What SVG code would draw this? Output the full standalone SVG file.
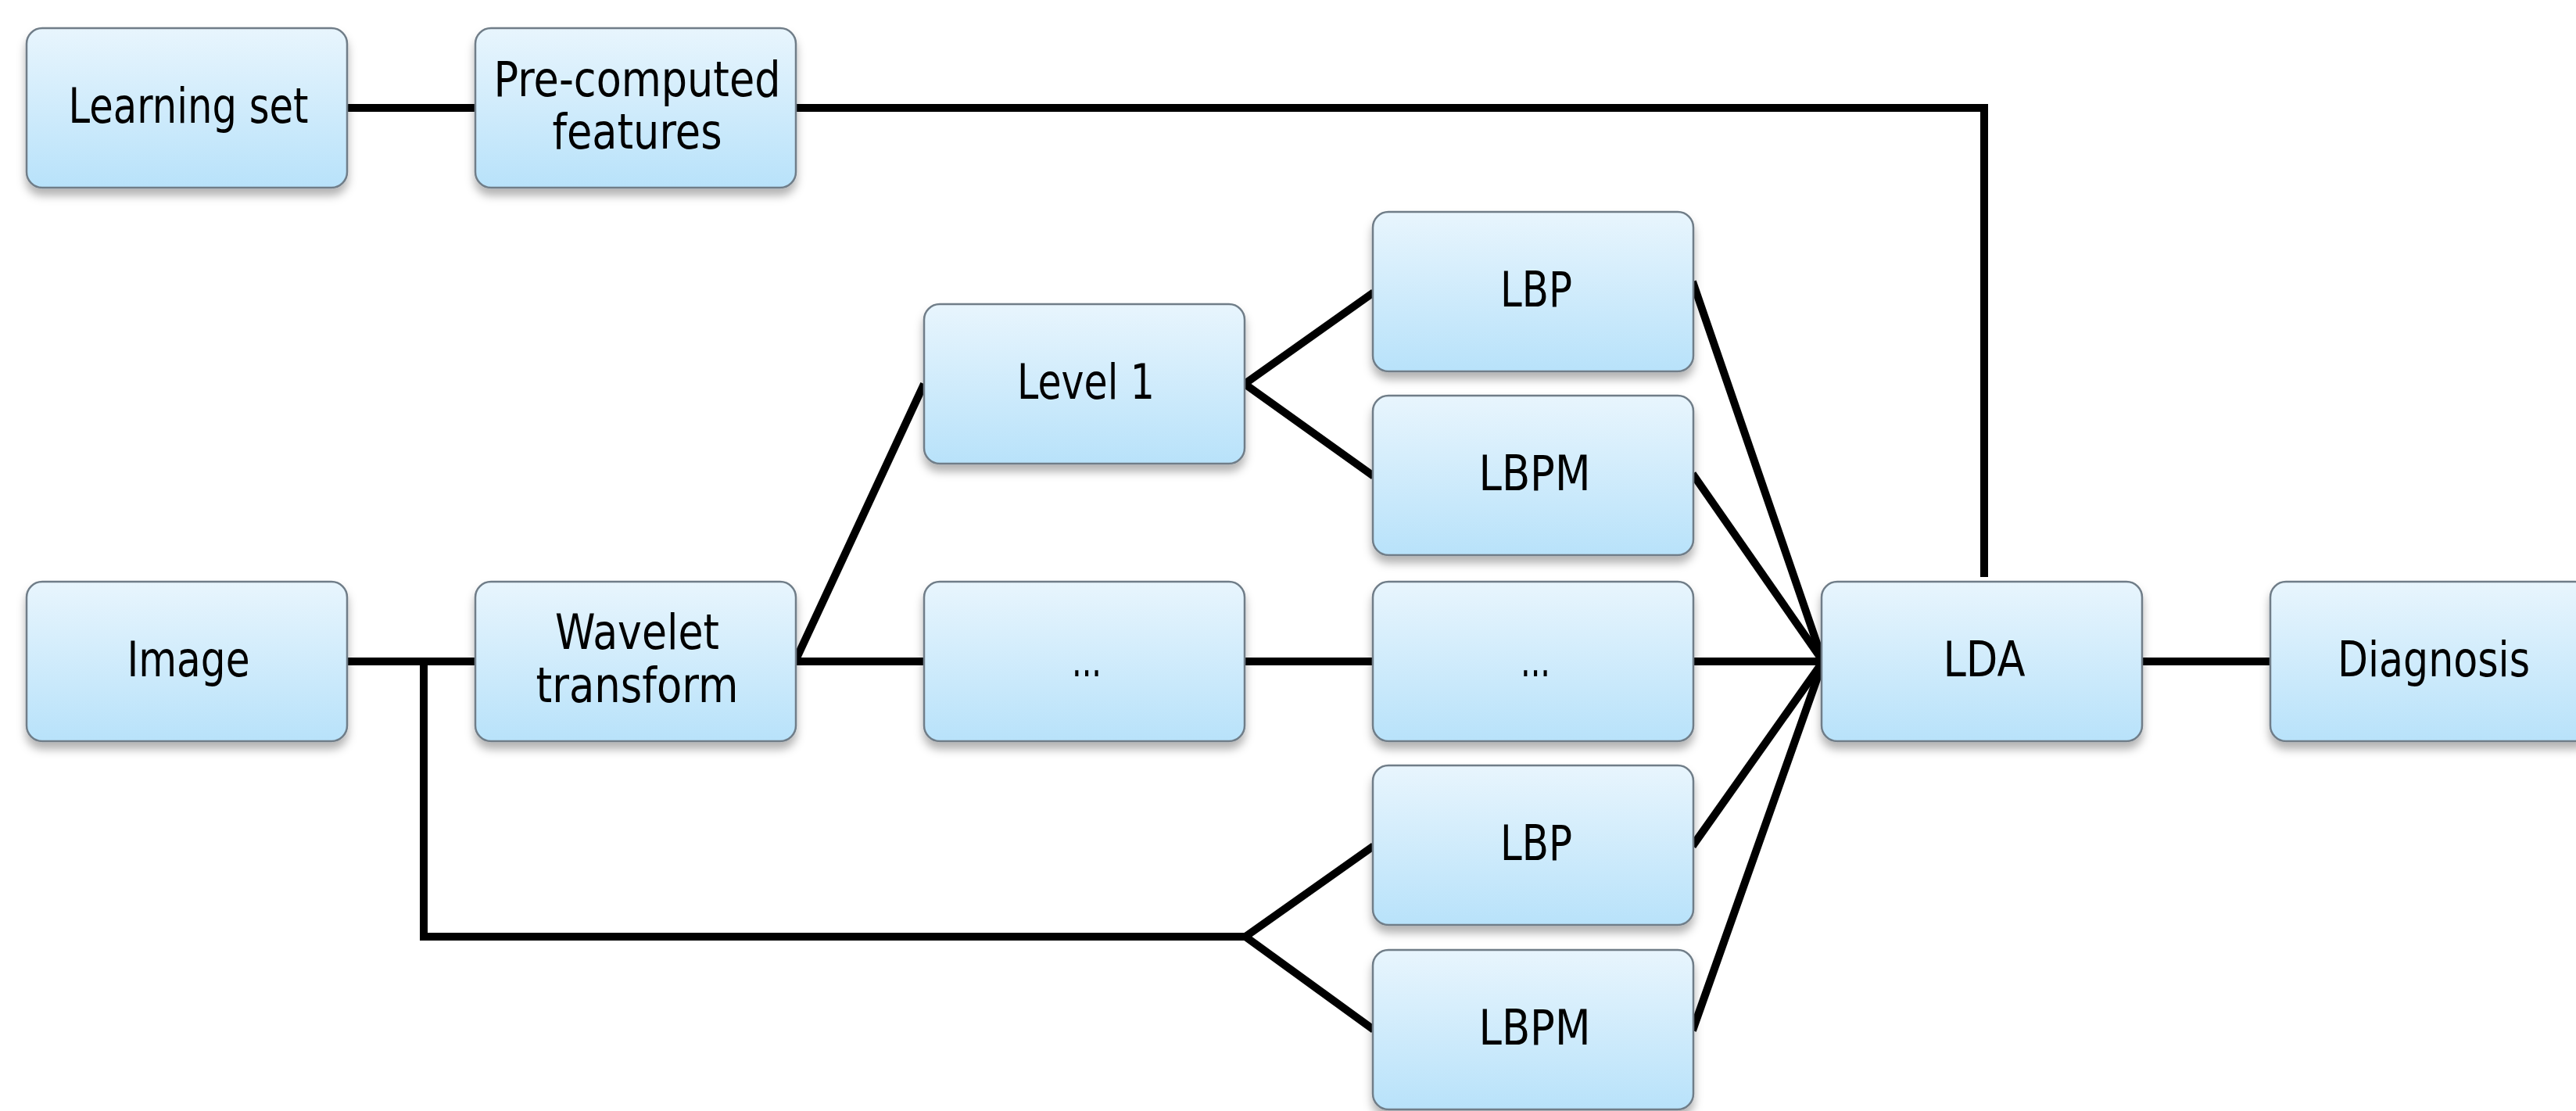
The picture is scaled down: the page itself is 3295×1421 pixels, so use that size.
<svg xmlns="http://www.w3.org/2000/svg" width="3295" height="1421" viewBox="0 0 3295 1421">
<style>
.box{fill:url(#g);stroke:#6f7d88;stroke-width:2.5}
.t{font-family:"DejaVu Sans","Liberation Sans",sans-serif;font-size:63px;fill:#000;text-anchor:middle}
.c line,.c polyline{stroke:#000;stroke-width:10;fill:none;stroke-linecap:butt}
</style>
<defs>
<linearGradient id="g" x1="0" y1="0" x2="0" y2="1">
<stop offset="0" stop-color="#e8f5fd"/>
<stop offset="1" stop-color="#b8e2fa"/>
</linearGradient>
<filter id="sh" x="-10%" y="-10%" width="120%" height="130%">
<feDropShadow dx="0" dy="9" stdDeviation="6" flood-color="#000" flood-opacity="0.3"/>
</filter>
</defs>
<rect width="3295" height="1421" fill="#fff"/>
<g class="c" id="connectors">
<line x1="443" y1="138" x2="608" y2="138"/>
<polyline points="1017,138 2538,138 2538,738"/>
<line x1="443" y1="846" x2="608" y2="846"/>
<polyline points="542,846 542,1198 1593,1198"/>
<line x1="1593" y1="1198" x2="1757" y2="1082"/>
<line x1="1593" y1="1198" x2="1757" y2="1317"/>
<line x1="1017" y1="846" x2="1182" y2="491"/>
<line x1="1017" y1="846" x2="1182" y2="846"/>
<line x1="1592" y1="491" x2="1757" y2="374"/>
<line x1="1592" y1="491" x2="1757" y2="609"/>
<line x1="1592" y1="846" x2="1756" y2="846"/>
<line x1="2166" y1="846" x2="2332" y2="846"/>
<line x1="2165" y1="360" x2="2332" y2="846"/>
<line x1="2165" y1="606" x2="2332" y2="846"/>
<line x1="2165" y1="1082" x2="2332" y2="846"/>
<line x1="2165" y1="1318" x2="2332" y2="846"/>
<line x1="2740" y1="846" x2="2904" y2="846"/>
</g>
<g id="learning-set" filter="url(#sh)"><rect class="box" x="34" y="36" width="410" height="204" rx="20"/><text class="t" x="241" y="157" textLength="307" lengthAdjust="spacingAndGlyphs">Learning set</text></g>
<g id="precomputed" filter="url(#sh)"><rect class="box" x="608" y="36" width="410" height="204" rx="20"/><text class="t" x="815" y="123" textLength="367" lengthAdjust="spacingAndGlyphs">Pre-computed</text><text class="t" x="815" y="190" textLength="217" lengthAdjust="spacingAndGlyphs">features</text></g>
<g id="image" filter="url(#sh)"><rect class="box" x="34" y="744" width="410" height="204" rx="20"/><text class="t" x="241" y="865" textLength="157" lengthAdjust="spacingAndGlyphs">Image</text></g>
<g id="wavelet" filter="url(#sh)"><rect class="box" x="608" y="744" width="410" height="204" rx="20"/><text class="t" x="815" y="830" textLength="210" lengthAdjust="spacingAndGlyphs">Wavelet</text><text class="t" x="815" y="898" textLength="259" lengthAdjust="spacingAndGlyphs">transform</text></g>
<g id="level1" filter="url(#sh)"><rect class="box" x="1182" y="389" width="410" height="204" rx="20"/><text class="t" x="1389" y="510" textLength="176" lengthAdjust="spacingAndGlyphs">Level 1</text></g>
<g id="dots-mid" filter="url(#sh)"><rect class="box" x="1182" y="744" width="410" height="204" rx="20"/><text class="t" x="1390" y="865" textLength="38" lengthAdjust="spacingAndGlyphs">...</text></g>
<g id="lbp-top" filter="url(#sh)"><rect class="box" x="1756" y="271" width="410" height="204" rx="20"/><text class="t" x="1965" y="392" textLength="92" lengthAdjust="spacingAndGlyphs">LBP</text></g>
<g id="lbpm-top" filter="url(#sh)"><rect class="box" x="1756" y="506" width="410" height="204" rx="20"/><text class="t" x="1963" y="627" textLength="143" lengthAdjust="spacingAndGlyphs">LBPM</text></g>
<g id="dots-right" filter="url(#sh)"><rect class="box" x="1756" y="744" width="410" height="204" rx="20"/><text class="t" x="1964" y="865" textLength="38" lengthAdjust="spacingAndGlyphs">...</text></g>
<g id="lbp-bottom" filter="url(#sh)"><rect class="box" x="1756" y="979" width="410" height="204" rx="20"/><text class="t" x="1965" y="1100" textLength="92" lengthAdjust="spacingAndGlyphs">LBP</text></g>
<g id="lbpm-bottom" filter="url(#sh)"><rect class="box" x="1756" y="1215" width="410" height="204" rx="20"/><text class="t" x="1963" y="1336" textLength="143" lengthAdjust="spacingAndGlyphs">LBPM</text></g>
<g id="lda" filter="url(#sh)"><rect class="box" x="2330" y="744" width="410" height="204" rx="20"/><text class="t" x="2538" y="865" textLength="105" lengthAdjust="spacingAndGlyphs">LDA</text></g>
<g id="diagnosis" filter="url(#sh)"><rect class="box" x="2904" y="744" width="410" height="204" rx="20"/><text class="t" x="3113" y="865" textLength="246" lengthAdjust="spacingAndGlyphs">Diagnosis</text></g>
</svg>
